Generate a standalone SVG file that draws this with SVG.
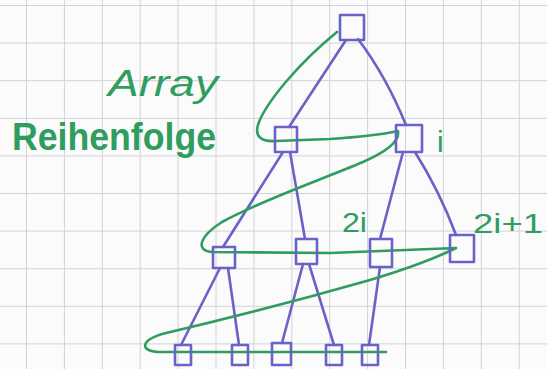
<svg xmlns="http://www.w3.org/2000/svg" width="547" height="369" viewBox="0 0 547 369">
  <style>
    .edge { fill: none; stroke: #6a62c6; stroke-width: 2.6; stroke-linecap: round; stroke-linejoin: round; }
    .node { fill: none; stroke: #6a62c6; stroke-width: 2.6; stroke-linejoin: round; }
    .order { fill: none; stroke: #2f9c60; stroke-width: 2.6; stroke-linecap: round; stroke-linejoin: round; }
    .lbl { fill: #2f9c60; font-family: "Liberation Sans", "DejaVu Sans", sans-serif; }
  </style>
  <defs>
    <pattern id="grid" patternUnits="userSpaceOnUse" x="26" y="5" width="37.9" height="37.6">
      <path d="M0,0 L37.9,0 M0,0 L0,37.6" fill="none" stroke="#d2d2d4" stroke-width="2"/>
    </pattern>
  </defs>
  <rect x="0" y="0" width="547" height="369" fill="#fbfbfb"/>
  <rect x="0" y="0" width="547" height="369" fill="url(#grid)"/>

  <g id="connectors">
    <path class="edge" d="M346,40 L289,127"/>
    <path class="edge" d="M358,39 Q386,76 406,125"/>
    <path class="edge" d="M283,152 L223,247"/>
    <path class="edge" d="M290,152 L305,239"/>
    <path class="edge" d="M403,152 L380,239"/>
    <path class="edge" d="M415,152 Q440,192 456,235"/>
    <path class="edge" d="M220,268 L181,345"/>
    <path class="edge" d="M228,268 L239,345"/>
    <path class="edge" d="M303,264 L282,343"/>
    <path class="edge" d="M309,264 L334,345"/>
    <path class="edge" d="M380,267 L369,345"/>
    <path id="array-order" class="order" d="M337,32 C300,62 268,100 259,122 C253,137 262,142 276,141 L330,139 C360,137 384,134 398,131 C400,141 388,151 363,162 C318,181 262,200 222,222 C200,236 194,251 213,252 L330,253 L456,248 C430,261 400,271 370,280 C300,300 222,320 162,334 C140,341 139,352 162,352 L386,352"/>
  </g>

  <g id="root"><rect class="node" x="340" y="15" width="24" height="25"/></g>
  <g id="n1"><rect class="node" x="275" y="127" width="22" height="25"/></g>
  <g id="n2"><rect class="node" x="396" y="125" width="26" height="27"/></g>
  <g id="n3"><rect class="node" x="213" y="247" width="22" height="21"/></g>
  <g id="n4"><rect class="node" x="296" y="239" width="21" height="25"/></g>
  <g id="n5"><rect class="node" x="370" y="239" width="22" height="28"/></g>
  <g id="n6"><rect class="node" x="450" y="235" width="24" height="27"/></g>
  <g id="n7"><rect class="node" x="175" y="345" width="16" height="20"/></g>
  <g id="n8"><rect class="node" x="232" y="345" width="16" height="20"/></g>
  <g id="n9"><rect class="node" x="272" y="343" width="19" height="22"/></g>
  <g id="n10"><rect class="node" x="326" y="345" width="16" height="20"/></g>
  <g id="n11"><rect class="node" x="362" y="345" width="16" height="20"/></g>

  <g id="labels">
    <text class="lbl" x="108" y="96" font-size="36" font-style="italic" textLength="110" lengthAdjust="spacingAndGlyphs">Array</text>
    <text class="lbl" x="12" y="150" font-size="38" font-weight="bold" textLength="204" lengthAdjust="spacingAndGlyphs">Reihenfolge</text>
    <text class="lbl" x="437" y="152" font-size="30">i</text>
    <text class="lbl" x="342" y="232" font-size="28" textLength="25" lengthAdjust="spacingAndGlyphs">2i</text>
    <text class="lbl" x="473" y="233" font-size="28" textLength="70" lengthAdjust="spacingAndGlyphs">2i+1</text>
  </g>
</svg>
